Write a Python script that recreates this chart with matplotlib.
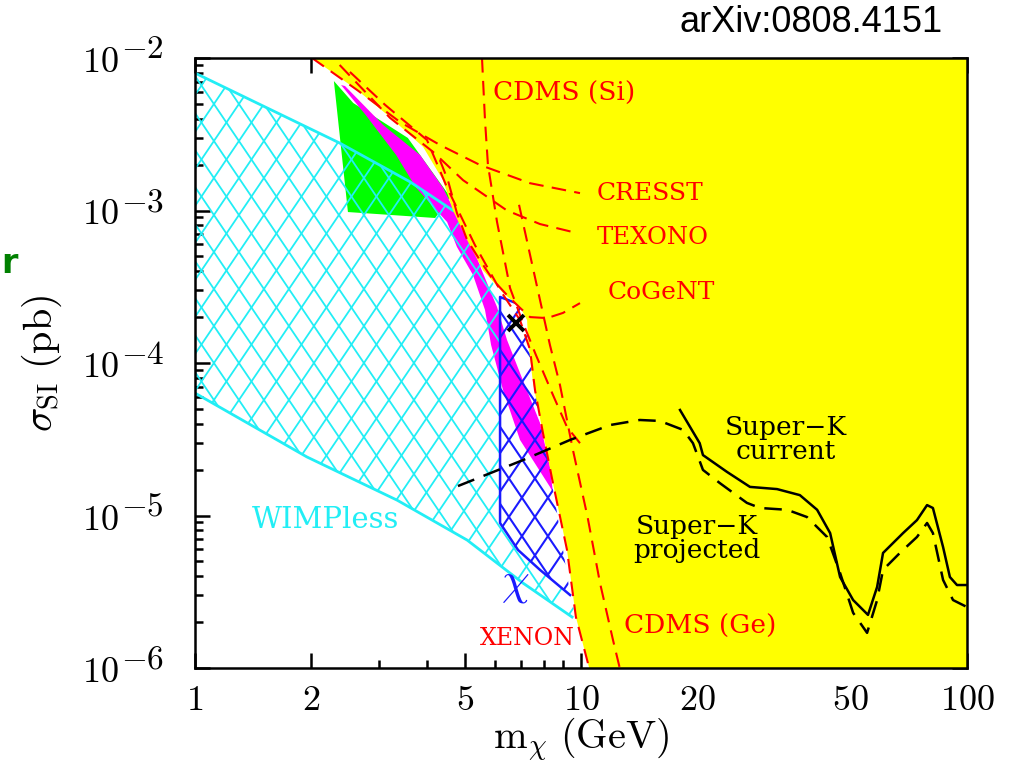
import numpy as np
import matplotlib
matplotlib.use("Agg")
import matplotlib.pyplot as plt
from matplotlib.patches import Polygon
from matplotlib.collections import LineCollection
from matplotlib.ticker import FixedLocator, FixedFormatter, NullFormatter
from matplotlib.transforms import blended_transform_factory, offset_copy

plt.rcParams['mathtext.fontset'] = 'cm'

# ---- data (mass in GeV, sigma in pb) ----
# WIMPless band
wimpless_top_m = [1.0, 2.37, 3.61, 4.66]
wimpless_top_s = [7.97e-3, 2.77e-3, 1.54e-3, 1.0e-3]
wimpless_right_m = [5.07, 5.57, 6.17, 6.17, 6.87, 7.83, 9.37, 9.70]
wimpless_right_s = [6.41e-4, 4.07e-4, 2.92e-4, 8.93e-6, 5.94e-6, 4.40e-6, 3.01e-6, 2.16e-6]
wimpless_bot_m = [1.0, 1.95, 3.34, 5.07, 7.08, 9.48]
wimpless_bot_s = [6.35e-5, 2.42e-5, 1.26e-5, 6.9e-6, 3.6e-6, 2.16e-6]

# green region
green_m = [2.29, 2.57, 3.56, 4.58, 4.19, 2.49]
green_s = [7.06e-3, 5.07e-3, 2.99e-3, 1.23e-3, 8.93e-4, 9.77e-4]

# magenta band
magenta_m = [2.447, 3.07, 3.83, 4.39, 4.66, 5.07, 5.57, 6.06, 6.43, 6.95, 7.83, 8.31, 8.46,
             8.31, 6.95, 6.28, 5.85, 5.64, 5.25, 4.77, 4.50, 3.74, 3.32, 2.77, 2.39]
magenta_s = [6.55e-3, 3.64e-3, 2.31e-3, 1.41e-3, 1.04e-3, 7.1e-4, 3.89e-4, 2.33e-4, 1.42e-4,
             8.6e-5, 4.05e-5, 2.08e-5, 1.41e-5,
             1.54e-5, 3.13e-5, 6.65e-5, 1.31e-4, 2.23e-4, 3.78e-4, 5.77e-4, 8.4e-4, 1.41e-3,
             2.31e-3, 4.22e-3, 6.65e-3]

# chi region (blue)
chi_m = [6.17, 6.95, 7.16, 7.38, 7.83, 8.56, 9.25, 9.37, 7.83, 6.87, 6.17]
chi_s = [2.71e-4, 2.40e-4, 1.91e-4, 1.22e-4, 4.23e-5, 1.26e-5, 3.78e-6, 3.01e-6, 4.40e-6,
         5.94e-6, 8.93e-6]
chi_edge_m = [7.0, 6.17, 6.17, 6.87, 7.83, 9.37]
chi_edge_s = [2.40e-4, 2.71e-4, 8.93e-6, 5.94e-6, 4.40e-6, 3.01e-6]
cross_m, cross_s = 6.79, 1.83e-4

# excluded (yellow) boundary
excl_m = [2.01, 2.63, 3.20, 3.90, 4.39, 4.66, 5.07, 5.57, 6.28, 6.95, 7.25, 7.29, 7.51, 7.97,
          8.46, 9.20, 9.70, 10.5]
excl_s = [1e-2, 6.17e-3, 4.10e-3, 2.61e-3, 1.58e-3, 1.0e-3, 6.41e-4, 4.07e-4, 2.88e-4,
          2.33e-4, 1.91e-4, 1.42e-4, 7.40e-5, 3.48e-5, 1.63e-5, 5.94e-6, 2.16e-6, 1e-6]

# experimental limits
cresst_m = [2.01, 2.63, 3.40, 4.31, 5.47, 7.38, 9.94]
cresst_s = [1e-2, 6.17e-3, 3.80e-3, 2.69e-3, 1.99e-3, 1.51e-3, 1.30e-3]
texono_m = [2.37, 3.20, 4.14, 4.95, 6.43, 7.83, 9.77]
texono_s = [9.0e-3, 4.05e-3, 2.42e-3, 1.58e-3, 1.0e-3, 8.15e-4, 7.11e-4]
cogent_m = [4.31, 4.52, 4.77, 5.07, 5.47, 5.92, 6.43, 6.95, 7.38, 8.17, 8.98, 9.94]
cogent_s = [2.14e-3, 1.58e-3, 9.64e-4, 6.41e-4, 4.73e-4, 3.50e-4, 2.79e-4, 2.30e-4, 2.00e-4,
            1.97e-4, 2.13e-4, 2.47e-4]
xenon_m = [2.52, 3.11, 3.99, 4.50, 5.31, 6.17, 6.95, 7.38, 7.60, 7.97, 8.46, 9.20, 9.70, 10.5]
xenon_s = [8.10e-3, 4.92e-3, 2.90e-3, 1.41e-3, 5.94e-4, 3.01e-4, 1.91e-4, 1.22e-4, 6.65e-5,
           3.48e-5, 1.63e-5, 5.94e-6, 2.16e-6, 1e-6]
cdms_si_m = [5.54, 5.64, 5.74, 6.06, 6.55, 7.03, 7.64, 8.46, 9.20, 9.94]
cdms_si_s = [1e-2, 3.92e-3, 1.99e-3, 8.41e-4, 3.10e-4, 1.91e-4, 1.13e-4, 6.17e-5, 3.80e-5, 2.98e-5]
cdms_ge_m = [6.91, 7.38, 7.83, 8.31, 8.82, 9.53, 10.4, 11.2, 12.1, 12.6]
cdms_ge_s = [1.09e-3, 5.11e-4, 2.59e-4, 1.31e-4, 7.18e-5, 2.69e-5, 9.77e-6, 3.61e-6, 1.53e-6, 1e-6]

# Super-K
sk_cur_m = [18.05, 20.3, 20.7, 23.9, 27.4, 32.2, 36.9, 40.9, 44.2, 46.9, 50.7, 55.4, 58.5,
            60.6, 68.3, 74.2, 78.8, 81.6, 86.7, 90.3, 94.2, 100]
sk_cur_s = [4.92e-5, 2.98e-5, 2.49e-5, 1.93e-5, 1.54e-5, 1.49e-5, 1.36e-5, 1.09e-5, 7.67e-6,
            3.95e-6, 2.79e-6, 2.23e-6, 3.40e-6, 5.68e-6, 7.67e-6, 9.33e-6, 1.17e-5, 1.12e-5,
            6.21e-6, 3.95e-6, 3.50e-6, 3.50e-6]
sk_proj_m = [4.80, 7.08, 9.37, 11.9, 14.2, 16.0, 18.4, 19.5, 20.7, 22.9, 26.9, 29.1, 34.2,
             38.5, 43.4, 46.9, 50.7, 55.1, 58.5, 60.6, 67.0, 74.2, 78.8, 81.6, 86.7, 92.0, 100]
sk_proj_s = [1.56e-5, 2.31e-5, 3.13e-5, 3.92e-5, 4.23e-5, 4.17e-5, 3.64e-5, 2.98e-5, 1.99e-5,
             1.63e-5, 1.21e-5, 1.12e-5, 1.09e-5, 9.77e-6, 7.23e-6, 4.20e-6, 2.30e-6, 1.70e-6,
             2.79e-6, 4.40e-6, 5.68e-6, 7.23e-6, 8.93e-6, 7.67e-6, 3.78e-6, 2.79e-6, 2.51e-6]

xticks = [1, 2, 5, 10, 20, 50, 100]
xticklabels = ['$1$', '$2$', '$5$', '$10$', '$20$', '$50$', '$100$']
yticks = [1e-6, 1e-5, 1e-4, 1e-3, 1e-2]
yexponents = ['$-6$', '$-5$', '$-4$', '$-3$', '$-2$']

# ---- figure ----
W_PX, H_PX = 1015, 768
L, R, B, T = 195 / W_PX, 967 / W_PX, 1 - 668 / H_PX, 1 - 58 / H_PX
fig = plt.figure(figsize=(W_PX / 100, H_PX / 100), dpi=100)
ax = fig.add_axes([L, B, R - L, T - B])
ax.set_xscale('log')
ax.set_yscale('log')
ax.set_xlim(1, 100)
ax.set_ylim(1e-6, 1e-2)

ax_w = (R - L) * W_PX
ax_h = (T - B) * H_PX


def add_hatch(patch, color, lw, z, step=25.0, slope=1.48):
    # diamond hatch drawn in axes pixels, clipped to the patch
    segs = []
    run = ax_h / slope
    for c in np.arange(-run - step, ax_w + step, step):
        segs.append([(c / ax_w, 0), ((c + run) / ax_w, 1)])
        segs.append([(c / ax_w, 1), ((c + run) / ax_w, 0)])
    lc = LineCollection(segs, colors=color, linewidths=lw, transform=ax.transAxes, zorder=z)
    lc.set_clip_path(patch)
    ax.add_collection(lc, autolim=False)


CYAN = '#22EEF5'
BLUE = '#1a1aff'

# green, magenta
ax.add_patch(Polygon(np.column_stack([green_m, green_s]), closed=True,
                     facecolor='#00FF00', edgecolor='none', zorder=1))
ax.add_patch(Polygon(np.column_stack([magenta_m, magenta_s]), closed=True,
                     facecolor='#FF00FF', edgecolor='none', zorder=2))

# WIMPless band
wl_m = wimpless_top_m + wimpless_right_m + wimpless_bot_m[::-1]
wl_s = wimpless_top_s + wimpless_right_s + wimpless_bot_s[::-1]
wl_patch = Polygon(np.column_stack([wl_m, wl_s]), closed=True, facecolor='none',
                   edgecolor='none', zorder=3)
ax.add_patch(wl_patch)
add_hatch(wl_patch, CYAN, 1.3, 3)
ax.plot(wimpless_top_m, wimpless_top_s, color=CYAN, lw=2, zorder=3)
ax.plot(wimpless_bot_m, wimpless_bot_s, color=CYAN, lw=2, zorder=3)

# chi region
chi_patch = Polygon(np.column_stack([chi_m, chi_s]), closed=True, facecolor='none',
                    edgecolor='none', zorder=4)
ax.add_patch(chi_patch)
add_hatch(chi_patch, BLUE, 1.5, 4, step=26.0)
ax.plot(chi_edge_m, chi_edge_s, color=BLUE, lw=1.8, zorder=4)

# excluded region
ex_m = excl_m + [100, 100]
ex_s = excl_s + [1e-6, 1e-2]
ax.add_patch(Polygon(np.column_stack([ex_m, ex_s]), closed=True, facecolor='#FFFF00',
                     edgecolor='none', zorder=5))

# limit curves
dash = (0, (7, 4))
for mm, ss in [(cresst_m, cresst_s), (texono_m, texono_s), (cogent_m, cogent_s),
               (xenon_m, xenon_s), (cdms_si_m, cdms_si_s), (cdms_ge_m, cdms_ge_s)]:
    ax.plot(mm, ss, color='red', lw=1.5, linestyle=dash, zorder=6)

ax.plot(sk_cur_m, sk_cur_s, color='black', lw=1.8, zorder=7)
ax.plot(sk_proj_m, sk_proj_s, color='black', lw=1.8, linestyle=(0, (7, 4)), zorder=7)
ax.plot([cross_m], [cross_s], marker='x', color='black', ms=11, mew=2.8, zorder=8)

# labels
lab = dict(family='DejaVu Serif', va='center', zorder=9)
ax.text(5.92, 5.89e-3, 'CDMS (Si)', color='red', ha='left', fontsize=19, **lab)
ax.text(11.0, 1.30e-3, 'CRESST', color='red', ha='left', fontsize=18, **lab)
ax.text(11.0, 6.70e-4, 'TEXONO', color='red', ha='left', fontsize=17.5, **lab)
ax.text(11.7, 2.88e-4, 'CoGeNT', color='red', ha='left', fontsize=18, **lab)
ax.text(12.9, 1.86e-6, 'CDMS (Ge)', color='red', ha='left', fontsize=19, **lab)
ax.text(5.47, 1.57e-6, 'XENON', color='red', ha='left', fontsize=17, **lab)
ax.text(34.0, 3.13e-5, 'Super\u2212K\ncurrent', color='black', ha='center',
        linespacing=0.95, fontsize=19, **lab)
ax.text(20.0, 7.11e-6, 'Super\u2212K\nprojected', color='black', ha='center',
        linespacing=0.95, fontsize=19, **lab)
ax.text(1.405, 9.33e-6, 'WIMPless', color=CYAN, ha='left', fontsize=21, **lab)
ax.text(6.75, 3.6e-6, r'$\chi$', color=BLUE, va='center', ha='center', fontsize=32,
        zorder=9)

# axes styling
ax.xaxis.set_major_locator(FixedLocator(xticks))
ax.xaxis.set_major_formatter(FixedFormatter(xticklabels))
ax.xaxis.set_minor_locator(FixedLocator([3, 4, 6, 7, 8, 9, 30, 40, 60, 70, 80, 90]))
ax.xaxis.set_minor_formatter(NullFormatter())
ax.yaxis.set_major_locator(FixedLocator(yticks))
ax.yaxis.set_major_formatter(NullFormatter())
ax.yaxis.set_minor_locator(FixedLocator([k * 10.0 ** e for e in range(-6, -2) for k in range(2, 10)]))
ax.yaxis.set_minor_formatter(NullFormatter())
ax.tick_params(which='both', direction='in', top=True, right=True, width=1.8)
ax.tick_params(axis='x', which='major', labelsize=26, pad=11)
ax.tick_params(which='major', length=11)
ax.tick_params(which='minor', length=5.5)
for sp in ax.spines.values():
    sp.set_linewidth(1.8)
    sp.set_zorder(10)

# y tick labels: "10" with a large exponent
ytrans = blended_transform_factory(ax.transAxes, ax.transData)
base_tr = offset_copy(ytrans, fig=fig, x=0, y=-4, units='dots')
exp_tr = offset_copy(ytrans, fig=fig, x=0, y=9, units='dots')
for yv, ex in zip(yticks, yexponents):
    ax.text((119 - 195) / ax_w, yv, '$10$', transform=base_tr, ha='right', va='center',
            fontsize=26, clip_on=False)
    ax.text((121 - 195) / ax_w, yv, ex, transform=exp_tr, ha='left', va='center',
            fontsize=24, clip_on=False)

ax.set_xlabel(r'$\mathrm{m}_\chi\ (\mathrm{GeV})$', fontsize=29, labelpad=-1)
ax.set_ylabel(r'$\sigma_{\rm SI}\ (\mathrm{pb})$', fontsize=29)
ax.yaxis.set_label_coords((64 - 195) / ax_w, 0.5)

fig.text(943 / W_PX, 1 - 22 / H_PX, 'arXiv:0808.4151', ha='right', va='center',
         family='Liberation Sans', fontsize=26)
fig.text(0.001, 1 - 263 / H_PX, 'r', ha='left', va='center', color='#008000',
         family='DejaVu Sans', weight='bold', fontsize=24)

fig.savefig('out.png', dpi=100)
